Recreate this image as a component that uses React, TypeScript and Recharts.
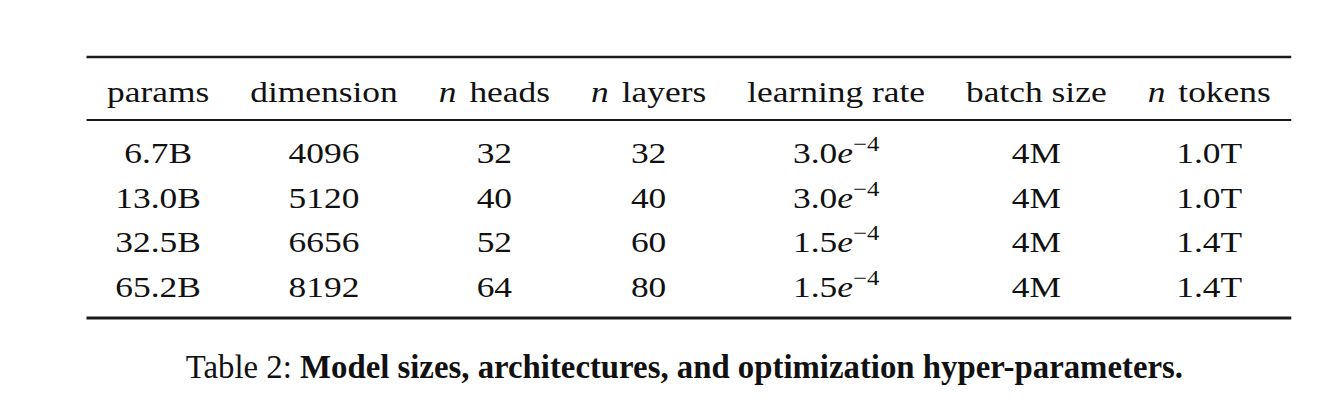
import { ScatterChart, Scatter, XAxis, YAxis, ReferenceLine } from 'recharts'

// table content
const HEADERS = ['params', 'dimension', 'n heads', 'n layers', 'learning rate', 'batch size', 'n tokens']
const HEADER_MATH_N = [false, false, true, true, false, false, true]
const PARAMS = ['6.7B', '13.0B', '32.5B', '65.2B']
const DIMENSION = [4096, 5120, 6656, 8192]
const N_HEADS = [32, 40, 52, 64]
const N_LAYERS = [32, 40, 60, 80]
const LEARNING_RATE = [3.0e-4, 3.0e-4, 1.5e-4, 1.5e-4]
const BATCH_SIZE = ['4M', '4M', '4M', '4M']
const N_TOKENS = ['1.0T', '1.0T', '1.4T', '1.4T']
const CAPTION_LABEL = 'Table 2:'
const CAPTION_TEXT = 'Model sizes, architectures, and optimization hyper-parameters.'

const COLUMNS = [PARAMS, DIMENSION, N_HEADS, N_LAYERS, LEARNING_RATE, BATCH_SIZE, N_TOKENS]
const LR_COL = 4

const W = 1330
const H = 404
const FONT = '"Liberation Serif", "Times New Roman", serif'
const FONT_SIZE = 30
const STRETCH = 1.18 // the table was squeezed vertically in the pdf
const MATH_N_PAD = 3.5 // math italic n is wider than the text italic one
const COL_SEP = 41
const TABLE_LEFT = 86.5
const INK = '#111'

// y is measured in body rows, row 0 = first body row
const HEADER_ROW = -1.371
const TOP_RULE = -2.382
const MID_RULE = -0.966
const BOTTOM_RULE = 3.483
const CAPTION_ROW = 4.838

let ctx: CanvasRenderingContext2D | null = null
function textWidth(s: string, italic = false) {
  if (!ctx) ctx = document.createElement('canvas').getContext('2d')
  if (!ctx) return s.length * FONT_SIZE * 0.5
  ctx.font = `${italic ? 'italic ' : ''}${FONT_SIZE}px ${FONT}`
  return ctx.measureText(s).width
}

function splitExp(v: number) {
  const exp = Math.floor(Math.log10(v))
  return { mant: (v / Math.pow(10, exp)).toFixed(1), exp }
}

function headerWidth(i: number) {
  const h = HEADERS[i]
  if (HEADER_MATH_N[i]) return textWidth('n', true) + MATH_N_PAD + textWidth(h.slice(1))
  return textWidth(h)
}

function bodyWidth(i: number, v: string | number) {
  if (i === LR_COL) {
    const { mant } = splitExp(v as number)
    return textWidth(mant) + textWidth('e', true) + 22
  }
  return textWidth(String(v))
}

function layout() {
  const widths = COLUMNS.map((col, i) =>
    Math.max(headerWidth(i), ...col.map((v) => bodyWidth(i, v))) * STRETCH
  )
  const centers: number[] = []
  let left = TABLE_LEFT
  widths.forEach((w) => {
    centers.push(left + COL_SEP / 2 + w / 2)
    left += w + COL_SEP
  })
  return { centers, right: left }
}

const CellText = (props: any) => {
  const { cx, cy, payload } = props
  if (cx == null || cy == null) return null
  const { col, value, header } = payload
  let content: any = value
  if (header && HEADER_MATH_N[col]) {
    content = (
      <>
        <tspan fontStyle="italic">n</tspan>
        <tspan dx={MATH_N_PAD}>{(value as string).slice(1)}</tspan>
      </>
    )
  } else if (!header && col === LR_COL) {
    const { mant, exp } = splitExp(value)
    content = (
      <>
        {mant}
        <tspan fontStyle="italic">e</tspan>
        <tspan fontSize={21} dy={-12}>{'\u2212' + Math.abs(exp)}</tspan>
      </>
    )
  }
  return (
    <g transform={`translate(${cx},${cy}) scale(${STRETCH},1)`}>
      <text x={0} y={0} textAnchor="middle" fontFamily={FONT} fontSize={FONT_SIZE} fill={INK}>
        {content}
      </text>
    </g>
  )
}

const CaptionText = (props: any) => {
  const { cx, cy } = props
  if (cx == null || cy == null) return null
  return (
    <text x={cx} y={cy} textAnchor="middle" fontFamily={FONT} fontSize={32.8} fill={INK}>
      {CAPTION_LABEL}{' '}
      <tspan fontWeight="bold">{CAPTION_TEXT}</tspan>
    </text>
  )
}

export default function App() {
  const { centers, right } = layout()

  const headerCells = HEADERS.map((h, i) => ({ x: centers[i], y: HEADER_ROW, col: i, value: h, header: true }))
  const bodyCells = COLUMNS.flatMap((col, i) =>
    col.map((v, r) => ({ x: centers[i], y: r, col: i, value: v, header: false }))
  )
  const caption = [{ x: (TABLE_LEFT + right) / 2 - 4.5, y: CAPTION_ROW }]

  const rules = [
    { y: TOP_RULE, w: 2.6 },
    { y: MID_RULE, w: 1.8 },
    { y: BOTTOM_RULE, w: 2.8 },
  ]

  return (
    <div style={{ position: 'absolute', left: 0, top: 0, width: W, height: H, background: '#fff' }}>
      <ScatterChart width={W} height={H} margin={{ top: 29.5, right: 0, bottom: 18.5, left: 0 }}>
        <XAxis type="number" dataKey="x" domain={[0, W]} hide />
        <YAxis type="number" dataKey="y" domain={[-3, 5]} reversed hide />
        {rules.map((r) => (
          <ReferenceLine
            key={r.y}
            segment={[{ x: TABLE_LEFT, y: r.y }, { x: right, y: r.y }]}
            stroke="#1a1a1a"
            strokeWidth={r.w}
            ifOverflow="visible"
          />
        ))}
        <Scatter data={headerCells} shape={CellText} isAnimationActive={false} />
        <Scatter data={bodyCells} shape={CellText} isAnimationActive={false} />
        <Scatter data={caption} shape={CaptionText} isAnimationActive={false} />
      </ScatterChart>
    </div>
  )
}
